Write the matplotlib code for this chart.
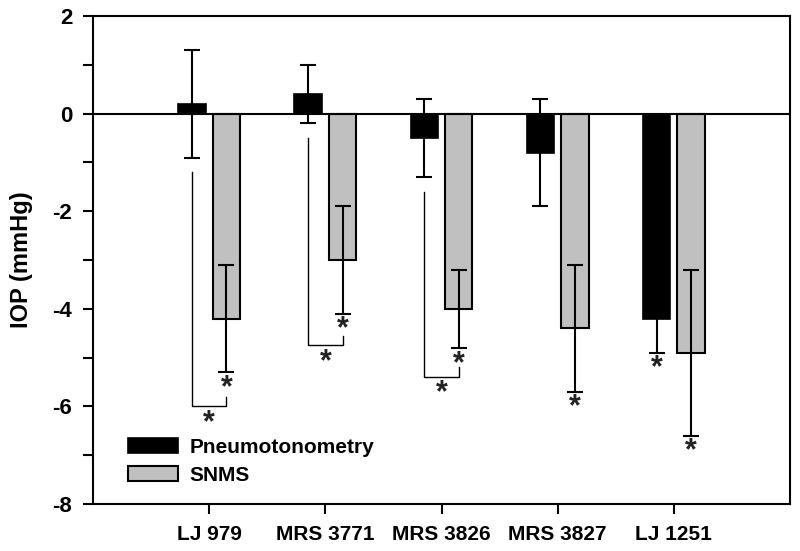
import matplotlib
matplotlib.use("Agg")
import matplotlib.pyplot as plt
import numpy as np
from matplotlib.ticker import MultipleLocator

plt.rcParams['font.family'] = ['Liberation Sans', 'DejaVu Sans']
plt.rcParams['font.weight'] = 'bold'
plt.rcParams['axes.unicode_minus'] = False

categories = ["LJ 979", "MRS 3771", "MRS 3826", "MRS 3827", "LJ 1251"]
pneumo = [0.2, 0.4, -0.5, -0.8, -4.2]
pneumo_err = [1.1, 0.6, 0.8, 1.1, 0.7]
snms = [-4.2, -3.0, -4.0, -4.4, -4.9]
snms_err = [1.1, 1.1, 0.8, 1.3, 1.7]

# significance markers
snms_star = [True, True, True, True, True]
pneumo_star = [False, False, False, False, True]
bracket_groups = [0, 1, 2]
bracket_left_top = [-1.2, -0.5, -1.6]
bracket_bottom = [-6.0, -4.75, -5.4]
bracket_right_top = [-5.8, -4.55, -5.2]

fig = plt.figure(figsize=(8, 5.51), dpi=100)
ax = fig.add_axes([0.11625, 0.0853, 0.87125, 0.8857])

x = np.arange(len(categories))
w = 0.235
off = 0.148
ekw = dict(elinewidth=1.5, capthick=1.5)
ax.bar(x - off, pneumo, w, color='black', edgecolor='black', linewidth=1.2,
       yerr=pneumo_err, capsize=6, error_kw=ekw, label='Pneumotonometry', zorder=2)
ax.bar(x + off, snms, w, color='#c0c0c0', edgecolor='black', linewidth=1.5,
       yerr=snms_err, capsize=6, error_kw=ekw, label='SNMS', zorder=2)

ax.axhline(0, color='black', lw=1.5, zorder=3)

star_kw = dict(ha='center', va='top', fontsize=22, fontweight='bold', color='#222222')
for i in range(len(categories)):
    if snms_star[i]:
        ax.text(x[i] + off, snms[i] - snms_err[i] - 0.02, '*', **star_kw)
    if pneumo_star[i]:
        ax.text(x[i] - off, pneumo[i] - pneumo_err[i] - 0.02, '*', **star_kw)

for g, lt, bb, rt in zip(bracket_groups, bracket_left_top, bracket_bottom, bracket_right_top):
    ax.plot([x[g] - off, x[g] - off, x[g] + off, x[g] + off], [lt, bb, bb, rt],
            color='black', lw=1.0, zorder=3)
    ax.text(x[g], bb - 0.03, '*', **star_kw)

ax.set_xlim(-1.0, 5.0)
ax.set_ylim(-8, 2)
ax.set_xticks(x)
ax.set_xticklabels(categories, fontsize=15, fontweight='bold')
ax.yaxis.set_major_locator(MultipleLocator(2))
ax.yaxis.set_minor_locator(MultipleLocator(1))
ax.tick_params(axis='both', which='both', direction='out', width=1.5)
ax.tick_params(axis='y', which='major', length=7, labelsize=16, pad=8)
ax.tick_params(axis='y', which='minor', length=7)
ax.tick_params(axis='x', length=7, pad=8)
for lab in ax.get_yticklabels():
    lab.set_fontweight('bold')
ax.set_ylabel('IOP (mmHg)', fontsize=17, fontweight='bold', labelpad=14)
for s in ax.spines.values():
    s.set_linewidth(1.5)

ax.legend(loc='lower left', frameon=False, handlelength=2.4,
          handleheight=0.7, handletextpad=0.55, labelspacing=0.45,
          borderaxespad=0.0, bbox_to_anchor=(0.038, 0.022),
          prop=dict(weight='bold', size=15))

fig.savefig('out.png', dpi=100)
